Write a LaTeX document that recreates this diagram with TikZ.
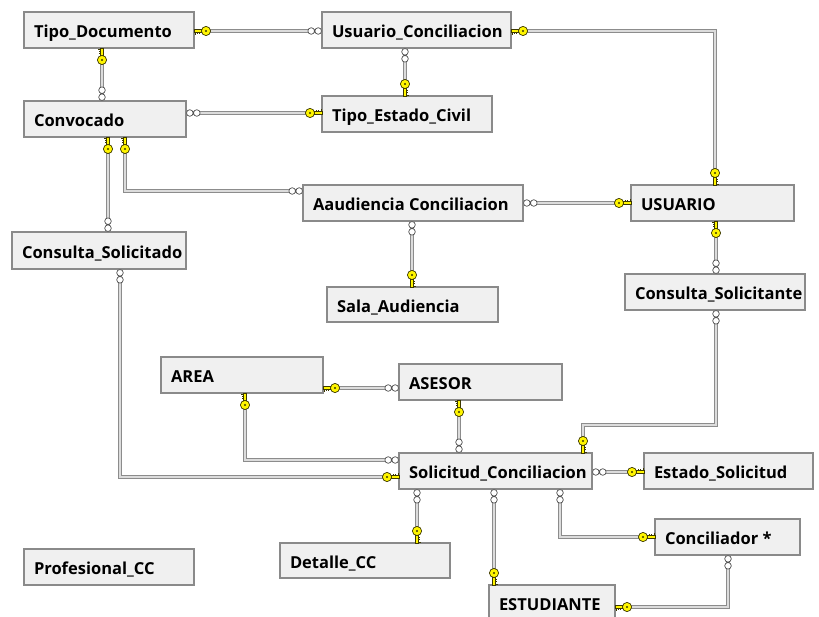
\documentclass[tikz,border=0pt]{standalone}
\usepackage{fontspec}
\setsansfont{Open Sans}
\definecolor{boxfill}{HTML}{F0F0F0}
\definecolor{boxline}{HTML}{8A8A8A}
\definecolor{relline}{HTML}{8C8C8C}
\definecolor{relcore}{HTML}{DCDCDC}
\definecolor{keyfill}{HTML}{FFF500}
\definecolor{keyline}{HTML}{3C3800}
\definecolor{manyline}{HTML}{505050}

\tikzset{
  tbl/.style={draw=boxline, fill=boxfill, line width=1.3pt, anchor=north west,
    outer sep=0pt, inner xsep=10pt, inner ysep=0pt, text height=17.5pt, text depth=2pt,
    font=\sffamily\bfseries\fontsize{16.5}{19}\selectfont, text=black},
  rel/.style={draw=relline, line width=0.8pt, double=relcore, double distance=1.5pt},
  % key end of a relationship: origin on the table border, drawn along +x
  fkkey/.pic={
    \filldraw[fill=keyfill, draw=keyline, line width=0.5pt] (0,-1.4) rectangle (8,1.4);
    \draw[keyline, line width=0.8pt] (1,1.4) -- (1,3.6) (3.2,1.4) -- (3.2,3.2) (5.4,1.4) -- (5.4,2.8);
    \filldraw[fill=keyfill, draw=keyline, line width=0.7pt] (12,0) circle (4.6);
    \fill[keyline] (12,0) circle (1.1);
  },
  % many end of a relationship: two small rings along +x
  fkmany/.pic={
    \filldraw[fill=white, draw=manyline, line width=0.7pt] (3.8,0) circle (3.3) (10.8,0) circle (3.3);
  }
}

% table box: name, left, top, width, height, caption
\newcommand\dbtable[6]{%
  \node[tbl, minimum width=#4pt, minimum height=#5pt] (#1) at (#2,#3)
    {\makebox[\dimexpr#4pt-20pt\relax][l]{#6}};}

\begin{document}
\begin{tikzpicture}[x=1pt, y=-1pt]
\useasboundingbox[fill=white] (0,0) rectangle (819,617);

% tables
\dbtable{tipodoc}{24}{12}{170}{36}{Tipo\_Documento}
\dbtable{usuconc}{322}{12}{189}{36}{Usuario\_Conciliacion}
\dbtable{convocado}{24}{101}{162}{36}{Convocado}
\dbtable{tipoest}{322}{96}{170}{36}{Tipo\_Estado\_Civil}
\dbtable{audiencia}{303}{185}{220}{36}{Aaudiencia Conciliacion}
\dbtable{usuario}{631}{185}{163}{36}{USUARIO}
\dbtable{consolicitado}{12}{232}{174}{37}{Consulta\_Solicitado}
\dbtable{sala}{327}{287}{171}{35}{Sala\_Audiencia}
\dbtable{consolicitante}{625}{274}{180}{36}{Consulta\_Solicitante}
\dbtable{area}{161}{357}{162}{36}{AREA}
\dbtable{asesor}{399}{364}{163}{36}{ASESOR}
\dbtable{solicitud}{399}{453}{193}{36}{Solicitud\_Conciliacion}
\dbtable{estado}{644}{453}{169}{36}{Estado\_Solicitud}
\dbtable{conciliador}{655}{519}{145}{36}{Conciliador *}
\dbtable{detalle}{280}{543}{170}{35}{Detalle\_CC}
\dbtable{estudiante}{489}{585}{126}{36}{ESTUDIANTE}
\dbtable{profesional}{24}{549}{170}{36}{Profesional\_CC}

% relationship end points
\coordinate (r1a) at ([yshift=-1pt]tipodoc.east);
\coordinate (r1b) at (r1a -| usuconc.west);
\coordinate (r2a) at ([xshift=78pt]tipodoc.south west);
\coordinate (r2b) at (r2a |- convocado.north);
\coordinate (r3a) at ([xshift=83pt]usuconc.south west);
\coordinate (r3b) at (r3a |- tipoest.north);
\coordinate (r4a) at ([yshift=6pt]convocado.east);
\coordinate (r4b) at (r4a -| tipoest.west);
\coordinate (r5a) at ([yshift=-1pt]usuconc.east);
\coordinate (r5b) at ([xshift=84pt]usuario.north west);
\coordinate (r6a) at ([xshift=84pt]convocado.south west);
\coordinate (r6b) at (r6a |- consolicitado.north);
\coordinate (r7a) at ([xshift=101pt]convocado.south west);
\coordinate (r7b) at ([yshift=12pt]audiencia.west);
\coordinate (r8a) at (audiencia.east);
\coordinate (r8b) at (r8a -| usuario.west);
\coordinate (r9a) at ([xshift=109pt]audiencia.south west);
\coordinate (r9b) at (r9a |- sala.north);
\coordinate (r10a) at ([xshift=85pt]usuario.south west);
\coordinate (r10b) at (r10a |- consolicitante.north);
\coordinate (r11a) at (r10a |- consolicitante.south);
\coordinate (r11b) at ([xshift=184pt]solicitud.north west);
\coordinate (r12a) at ([xshift=108pt]consolicitado.south west);
\coordinate (r12b) at ([yshift=-6pt]solicitud.west);
\coordinate (r13a) at ([yshift=-13pt]area.east);
\coordinate (r13b) at (r13a -| asesor.west);
\coordinate (r14a) at ([xshift=84pt]area.south west);
\coordinate (r14b) at ([yshift=11pt]solicitud.west);
\coordinate (r15a) at ([xshift=60pt]asesor.south west);
\coordinate (r15b) at (r15a |- solicitud.north);
\coordinate (r16a) at ([yshift=-1pt]solicitud.east);
\coordinate (r16b) at (r16a -| estado.west);
\coordinate (r17a) at ([xshift=18pt]solicitud.south west);
\coordinate (r17b) at (r17a |- detalle.north);
\coordinate (r18a) at ([xshift=95pt]solicitud.south west);
\coordinate (r18b) at (r18a |- estudiante.north);
\coordinate (r19a) at ([xshift=161pt]solicitud.south west);
\coordinate (r19b) at (conciliador.west);
\coordinate (r20a) at ([xshift=73pt]conciliador.south west);
\coordinate (r20b) at ([yshift=-4pt]estudiante.east);

% relationship lines
\draw[rel] (r1a) -- (r1b);
\draw[rel] (r2a) -- (r2b);
\draw[rel] (r3a) -- (r3b);
\draw[rel] (r4a) -- (r4b);
\draw[rel] (r5a) -| (r5b);
\draw[rel] (r6a) -- (r6b);
\draw[rel] (r7a) |- (r7b);
\draw[rel] (r8a) -- (r8b);
\draw[rel] (r9a) -- (r9b);
\draw[rel] (r10a) -- (r10b);
\draw[rel] (r11a) |- ([yshift=28pt]r11b) -- (r11b);
\draw[rel] (r12a) |- (r12b);
\draw[rel] (r13a) -- (r13b);
\draw[rel] (r14a) |- (r14b);
\draw[rel] (r15a) -- (r15b);
\draw[rel] (r16a) -- (r16b);
\draw[rel] (r17a) -- (r17b);
\draw[rel] (r18a) -- (r18b);
\draw[rel] (r19a) |- (r19b);
\draw[rel] (r20a) |- (r20b);

% relationship ends
\pic at (r1a) {fkkey};            \pic[rotate=180] at (r1b) {fkmany};
\pic[rotate=-90] at (r2a) {fkkey}; \pic[rotate=90] at (r2b) {fkmany};
\pic[rotate=-90] at (r3a) {fkmany};\pic[rotate=90] at (r3b) {fkkey};
\pic at (r4a) {fkmany};           \pic[rotate=180] at (r4b) {fkkey};
\pic at (r5a) {fkkey};            \pic[rotate=90] at (r5b) {fkkey};
\pic[rotate=-90] at (r6a) {fkkey}; \pic[rotate=90] at (r6b) {fkmany};
\pic[rotate=-90] at (r7a) {fkkey}; \pic[rotate=180] at (r7b) {fkmany};
\pic at (r8a) {fkmany};           \pic[rotate=180] at (r8b) {fkkey};
\pic[rotate=-90] at (r9a) {fkmany};\pic[rotate=90] at (r9b) {fkkey};
\pic[rotate=-90] at (r10a) {fkkey};\pic[rotate=90] at (r10b) {fkmany};
\pic[rotate=-90] at (r11a) {fkmany};\pic[rotate=90] at (r11b) {fkkey};
\pic[rotate=-90] at (r12a) {fkmany};\pic[rotate=180] at (r12b) {fkkey};
\pic at (r13a) {fkkey};           \pic[rotate=180] at (r13b) {fkmany};
\pic[rotate=-90] at (r14a) {fkkey};\pic[rotate=180] at (r14b) {fkmany};
\pic[rotate=-90] at (r15a) {fkkey};\pic[rotate=90] at (r15b) {fkmany};
\pic at (r16a) {fkmany};          \pic[rotate=180] at (r16b) {fkkey};
\pic[rotate=-90] at (r17a) {fkmany};\pic[rotate=90] at (r17b) {fkkey};
\pic[rotate=-90] at (r18a) {fkmany};\pic[rotate=90] at (r18b) {fkkey};
\pic[rotate=-90] at (r19a) {fkmany};\pic[rotate=180] at (r19b) {fkkey};
\pic[rotate=-90] at (r20a) {fkmany};\pic at (r20b) {fkkey};
\end{tikzpicture}
\end{document}
